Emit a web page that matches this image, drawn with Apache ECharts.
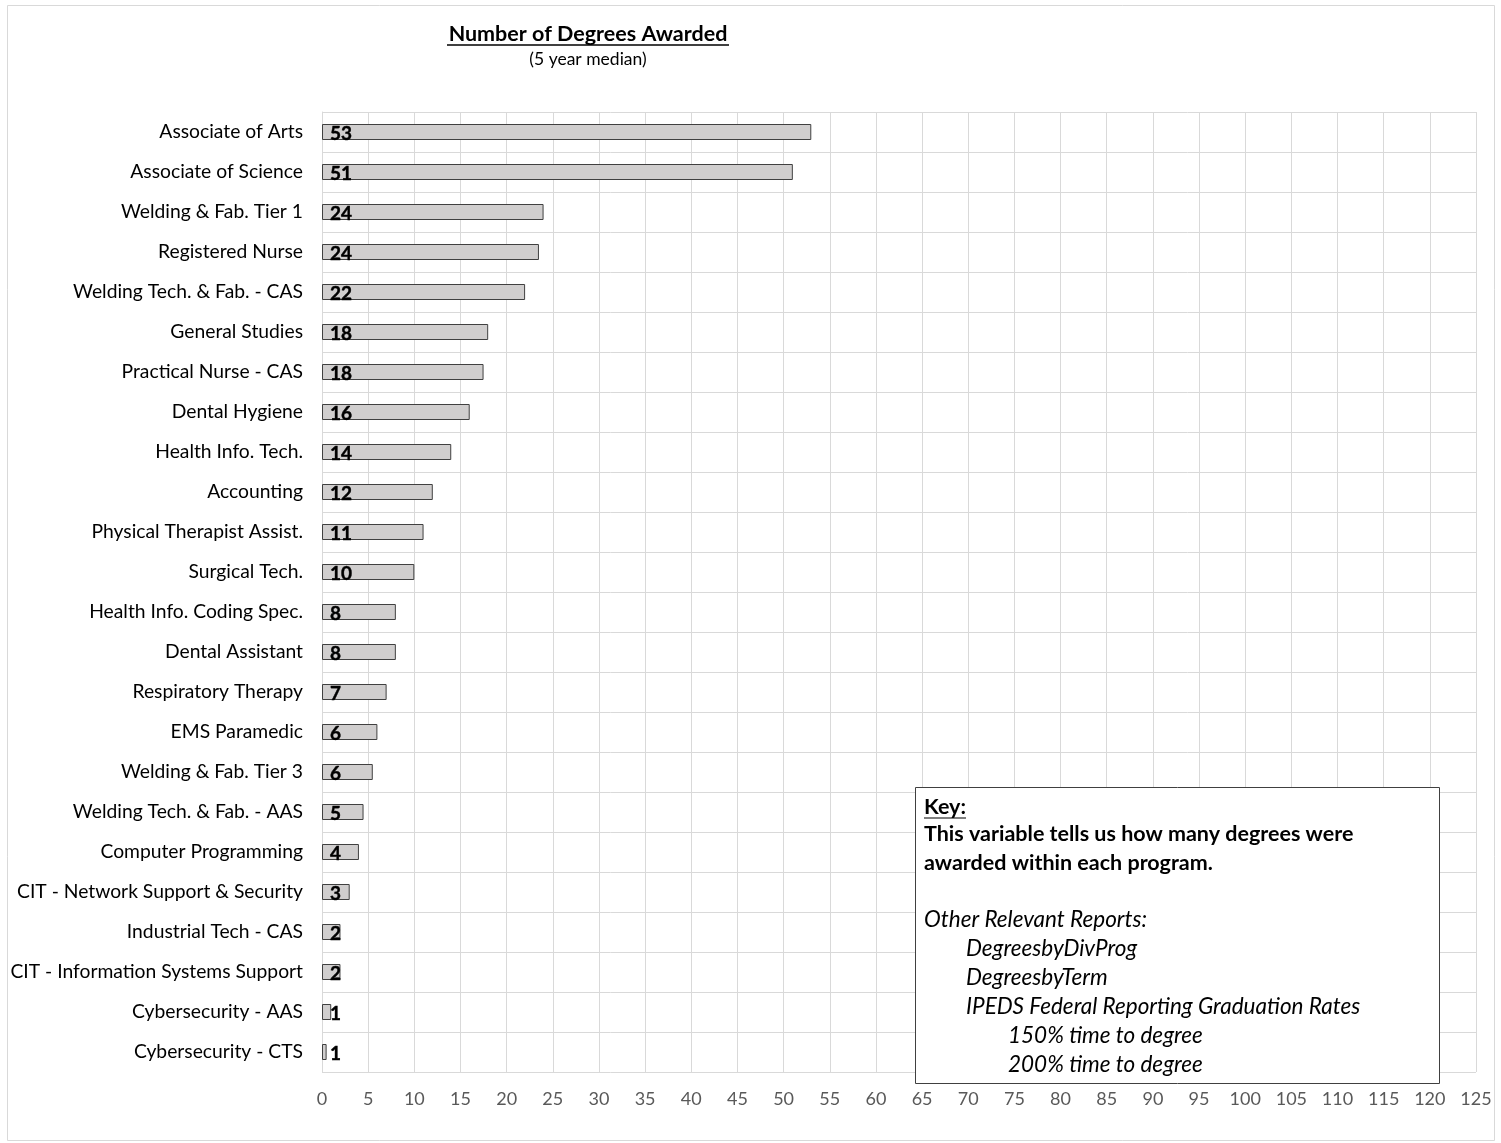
<!DOCTYPE html>
<html><head><meta charset="utf-8">
<script src="https://cdn.jsdelivr.net/npm/echarts@6/dist/echarts.min.js"></script>
<style>html,body{margin:0;padding:0;background:#fff}#c{width:1501px;height:1143px}</style>
</head><body><div id="c"></div>
<script>
const categories = ["Associate of Arts","Associate of Science","Welding & Fab. Tier 1","Registered Nurse","Welding Tech. & Fab. - CAS","General Studies","Practical Nurse - CAS","Dental Hygiene","Health Info. Tech.","Accounting","Physical Therapist Assist.","Surgical Tech.","Health Info. Coding Spec.","Dental Assistant","Respiratory Therapy","EMS Paramedic","Welding & Fab. Tier 3","Welding Tech. & Fab. - AAS","Computer Programming","CIT - Network Support & Security","Industrial Tech - CAS","CIT - Information Systems Support","Cybersecurity - AAS","Cybersecurity - CTS"];
const values = [53,51,24,23.5,22,18,17.5,16,14,12,11,10,8,8,7,6,5.5,4.5,4,3,2,2,1,0.5];
const xTicks = {min:0, max:125, interval:5};
const titleText = "Number of Degrees Awarded";
const subtitleText = "(5 year median)";
const keyBold = ["This variable tells us how many degrees were","awarded within each program."];
const keyItalic = [["Other Relevant Reports:",0],["DegreesbyDivProg",1],["DegreesbyTerm",1],["IPEDS Federal Reporting Graduation Rates",1],["150% time to degree",2],["200% time to degree",2]];

const FONT = "Lato";
const chart = echarts.init(document.getElementById('c'), null, {renderer:'canvas'});
const graphics = [
  {type:'rect', shape:{x:7.5,y:5.5,width:1487,height:1135}, style:{fill:'none',stroke:'#d9d9d9',lineWidth:1}, z:0},
  {type:'text', x:588, y:34, style:{text:titleText, font:'bold 21.5px '+FONT, fill:'#000', align:'center', verticalAlign:'middle'}},
  {type:'line', shape:{x1:447,y1:45,x2:729,y2:45}, style:{stroke:'#000',lineWidth:1.5}},
  {type:'text', x:588, y:59, style:{text:subtitleText, font:'17.5px '+FONT, fill:'#000', align:'center', verticalAlign:'middle'}},
  {type:'rect', shape:{x:915.5,y:787.5,width:524,height:296}, style:{fill:'#fff',stroke:'#404040',lineWidth:1}, z:50},
  {type:'text', x:924, y:807, z:51, style:{text:'Key:', font:'bold 21.5px '+FONT, fill:'#000', verticalAlign:'middle'}},
  {type:'line', z:51, shape:{x1:924,y1:818,x2:966,y2:818}, style:{stroke:'#000',lineWidth:1.2}}
];
keyBold.forEach((t,i)=>graphics.push({type:'text', x:924, y:834+i*29, z:51, style:{text:t, font:'bold 21.5px '+FONT, fill:'#000', verticalAlign:'middle'}}));
keyItalic.forEach((t,i)=>graphics.push({type:'text', x:924+t[1]*42, y:920+i*29, z:51, style:{text:t[0], font:'italic 22.5px '+FONT, fill:'#000', verticalAlign:'middle'}}));

chart.setOption({
  animation:false,
  backgroundColor:'#fff',
  grid:{left:322, right:25, top:112, bottom:71, containLabel:false},
  xAxis:{type:'value', min:xTicks.min, max:xTicks.max, interval:xTicks.interval,
    axisLine:{show:false}, axisTick:{show:false},
    axisLabel:{color:'#595959', fontSize:18, fontFamily:FONT, margin:18},
    splitLine:{show:true, lineStyle:{color:'#d9d9d9', width:1}}},
  yAxis:{type:'category', data:categories, inverse:true,
    axisLine:{show:true, lineStyle:{color:'#d9d9d9'}}, axisTick:{show:false},
    axisLabel:{color:'#000', fontSize:19.3, fontFamily:FONT, margin:19},
    splitLine:{show:true, lineStyle:{color:'#d9d9d9', width:1}}},
  series:[{type:'bar', data:values, barWidth:16,
    itemStyle:{color:'#d0cece', borderColor:'#404040', borderWidth:1},
    label:{show:true, position:'insideLeft', distance:8, offset:[0,2],
      formatter:p=>Math.round(p.value), color:'#000', fontWeight:'bold', fontSize:19, fontFamily:FONT,
      textBorderColor:'#000', textBorderWidth:0.4}
  }],
  graphic:graphics
});
</script></body></html>
